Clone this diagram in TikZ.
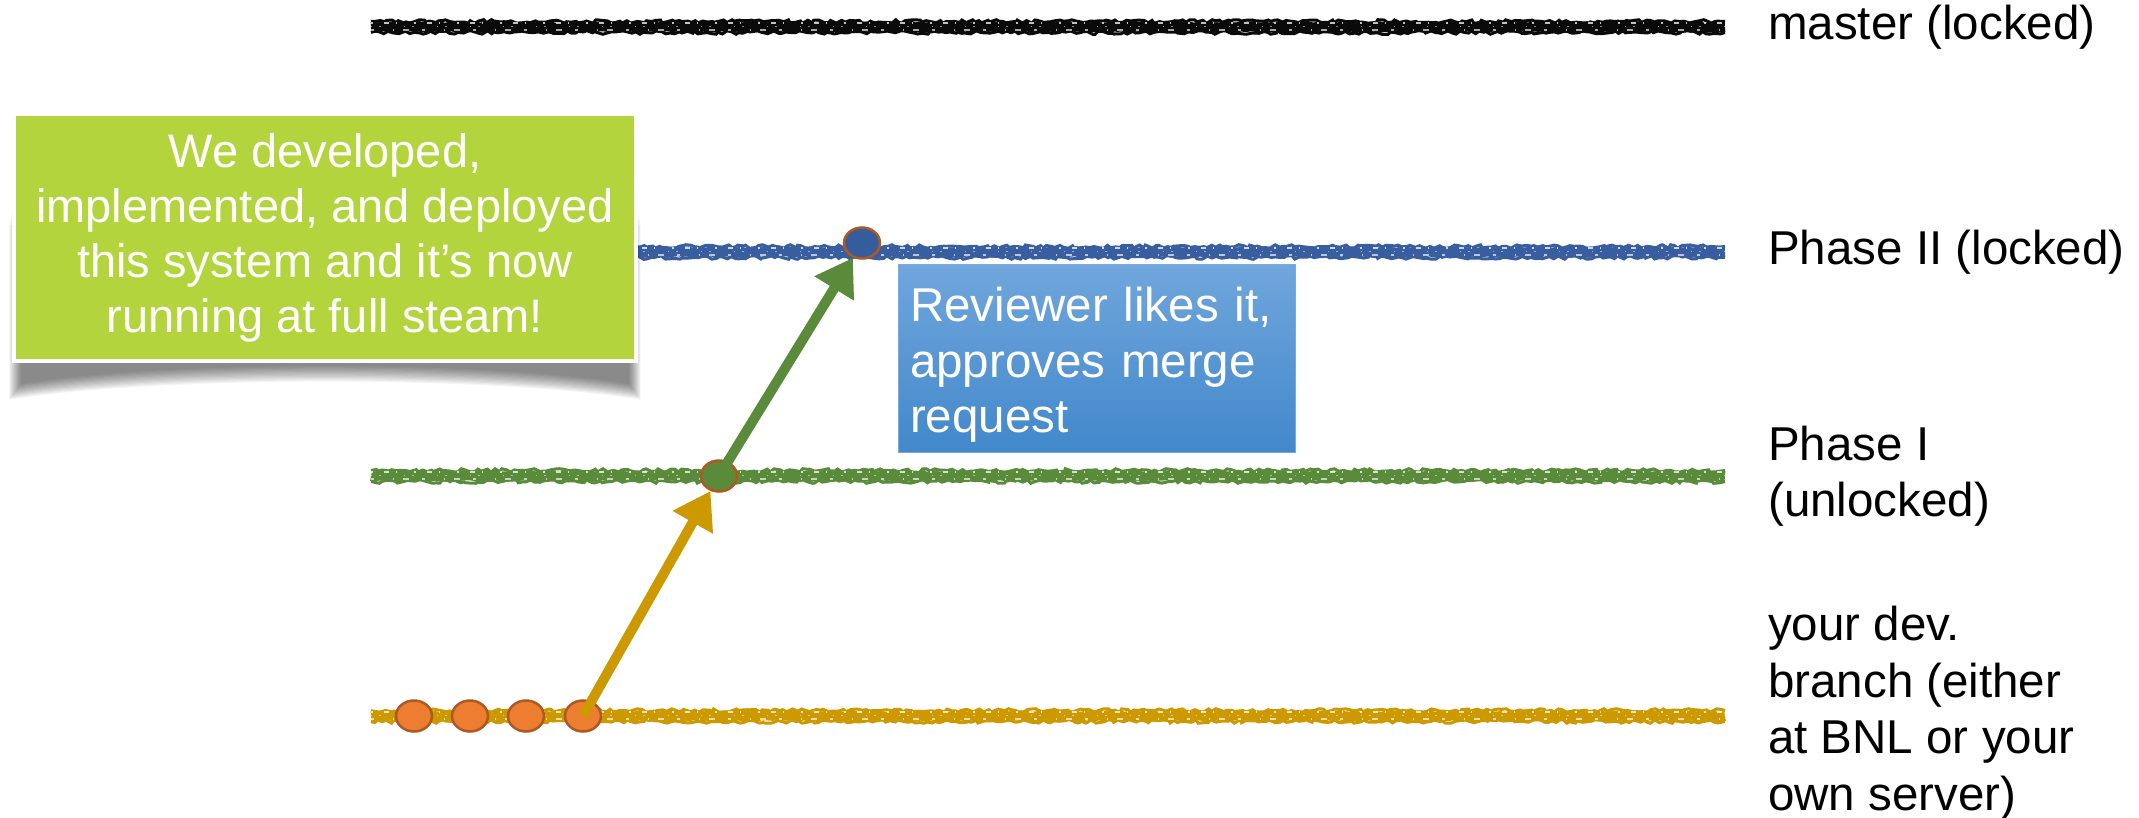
\documentclass[tikz,border=0pt]{standalone}
\usepackage{fontspec}
\setmainfont{Liberation Sans}
\usetikzlibrary{shapes.geometric,arrows.meta,decorations.pathmorphing}
\definecolor{cBlack}{RGB}{10,10,10}
\definecolor{cBlue}{RGB}{56,94,160}
\definecolor{cGreen}{RGB}{90,139,58}
\definecolor{cGold}{RGB}{204,154,0}
\definecolor{cOrange}{RGB}{237,125,49}
\definecolor{cRim}{RGB}{176,88,34}
\definecolor{cDotBlue}{RGB}{53,93,158}
\definecolor{cLime}{RGB}{179,212,60}
\definecolor{cSkyTop}{RGB}{112,166,220}
\definecolor{cSkyBot}{RGB}{66,136,203}
\definecolor{cSkyRim}{RGB}{120,170,222}

\newcommand{\chalkline}[3]{%
 \draw[#1, line width=10pt, decorate, decoration={random steps, segment length=3pt, amplitude=0.8pt}] (#2) -- (#3);
 \draw[#1, line width=3pt, decorate, decoration={random steps, segment length=4pt, amplitude=1.8pt}] ([yshift=-5.5pt]#2) -- ([yshift=-5.5pt]#3);
 \draw[#1, line width=3pt, decorate, decoration={random steps, segment length=4pt, amplitude=1.8pt}] ([yshift=5.5pt]#2) -- ([yshift=5.5pt]#3);
 \draw[white, line width=1.5pt, opacity=0.75, dash pattern=on 2pt off 11pt on 5pt off 7pt on 1pt off 17pt] ([yshift=4pt]#2) -- ([yshift=4pt]#3);
 \draw[white, line width=1.2pt, opacity=0.65, dash pattern=on 3pt off 19pt on 1pt off 9pt on 6pt off 13pt] ([yshift=-3pt]#2) -- ([yshift=-3pt]#3);
 \draw[white, line width=1pt, opacity=0.5, dash pattern=on 1pt off 7pt on 2pt off 23pt] ([yshift=0.5pt]#2) -- ([yshift=0.5pt]#3);
}

\tikzset{
  lbl/.style={anchor=west, inner sep=0pt, align=left, text=black, font=\fontsize{47.5}{56.5}\selectfont},
  notebox/.style={fill=cLime, draw=white, line width=4pt, minimum width=622pt, minimum height=247pt,
    align=center, text=white, font=\fontsize{47}{55}\selectfont, inner sep=0pt},
  reviewbox/.style={top color=cSkyTop, bottom color=cSkyBot, draw=cSkyRim, line width=1pt,
    minimum height=187pt, text width=373pt, align=left, text=white,
    font=\fontsize{47.5}{55.5}\selectfont, inner xsep=12pt, inner ysep=0pt},
  dot/.style={ellipse, minimum width=36pt, minimum height=31pt, line width=2.5pt, draw=cRim, inner sep=0pt},
  arr/.style={line width=10pt, -{Triangle[length=36pt, width=44pt]}}
}

\begin{document}
\begin{tikzpicture}[x=1pt, y=-1pt]
\pgfmathsetseed{7}
\useasboundingbox (0,0) rectangle (2139,818);

% branch lines
\coordinate (mL) at (371,27);   \coordinate (mR) at (1725,27);
\coordinate (pL) at (371,252);  \coordinate (pR) at (1725,252);
\coordinate (qL) at (371,476);  \coordinate (qR) at (1725,476);
\coordinate (dL) at (371,716);  \coordinate (dR) at (1725,716);
\chalkline{cBlack}{mL}{mR}
\chalkline{cBlue}{pL}{pR}
\chalkline{cGreen}{qL}{qR}
\chalkline{cGold}{dL}{dR}

% labels
\node[lbl] (lm) at (1768,27) {master (locked)};
\node[lbl] (lp) at (1768,252) {Phase II (locked)};
\node[lbl] (lq) at (1768,476) {Phase I\\(unlocked)};
\node[lbl] (ld) at (1768,713) {your dev.\\branch (either\\at BNL or your\\own server)};

% shadow of the note (curved, blurred, fading upward)
\foreach \i in {0,...,13} {
  \fill[black, opacity=0.045] (21-0.9*\i,160+5*\i) -- (21-0.9*\i, 384+1.2*\i)
     .. controls (160,360+1.2*\i) and (490,360+1.2*\i) .. (629+0.9*\i, 384+1.2*\i)
     -- (629+0.9*\i,160+5*\i) -- cycle;
}
\node[notebox] (note) at (325,237.5) {We developed,\\implemented, and deployed\\this system and it’s now\\running at full steam!};

% review note
\node[reviewbox] (review) at (1096.5,358.5) {\rule{0pt}{47pt}Reviewer likes it,\\approves merge\\request};

% commits
\node[dot, fill=cOrange] (d1) at (414,716) {};
\node[dot, fill=cOrange] (d2) at (470,716) {};
\node[dot, fill=cOrange] (d3) at (526,716) {};
\node[dot, fill=cOrange] (d4) at (583,716) {};
\node[dot, fill=cGreen] (g1) at (719,476) {};
\node[dot, fill=cDotBlue] (b1) at (862,243) {};

% merges
\draw[arr, cGold] (d4.center) -- (g1);
\draw[arr, cGreen] (g1.center) -- (b1);
\end{tikzpicture}
\end{document}
